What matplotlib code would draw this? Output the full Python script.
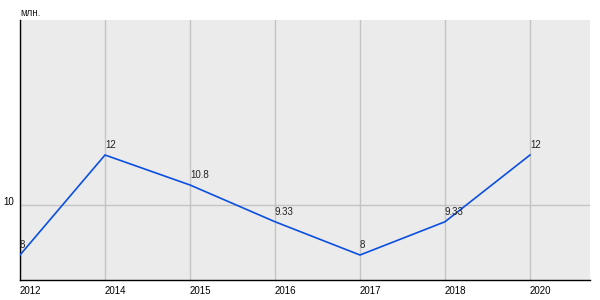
import matplotlib.pyplot as plt

years = ["2012", "2014", "2015", "2016", "2017", "2018", "2020"]
values = [8, 12, 10.8, 9.33, 8, 9.33, 12]
value_labels = ["8", "12", "10.8", "9.33", "8", "9.33", "12"]
y_ticks = [10]

plt.rcParams['font.family'] = ['Liberation Sans', 'DejaVu Sans']

fig = plt.figure(figsize=(6, 3), dpi=100)
ax = fig.add_axes([20 / 600, 20 / 300, 570 / 600, 260 / 300])
ax.set_facecolor("#ebebeb")

x = list(range(len(years)))
ax.plot(x, values, color="#0b4fe0", linewidth=1.2, zorder=3)
for xi, v, lab in zip(x, values, value_labels):
    ax.annotate(lab, (xi, v), xytext=(0, 3.5), textcoords="offset points",
                ha="left", va="bottom", fontsize=7, color="#222222")

ax.set_xlim(0, 6.706)
ax.set_ylim(7, 17.4)
ax.set_xticks(x)
ax.set_xticklabels(years, ha="left", fontsize=7)
ax.set_yticks(y_ticks)
ax.set_yticklabels([str(t) for t in y_ticks], fontsize=7, va="baseline")
ax.tick_params(axis="x", length=0, pad=4)
ax.tick_params(axis="y", length=0, pad=4)
ax.grid(True, color="#c4c4c4", linewidth=1)
ax.set_axisbelow(True)

for side in ["top", "right"]:
    ax.spines[side].set_visible(False)
for side in ["left", "bottom"]:
    ax.spines[side].set_color("black")
    ax.spines[side].set_linewidth(1)

fig.text(20 / 600, 1 - 13 / 300, "млн.", fontsize=7, ha="left", va="center", color="#222222")

fig.savefig("out.png", dpi=100)
